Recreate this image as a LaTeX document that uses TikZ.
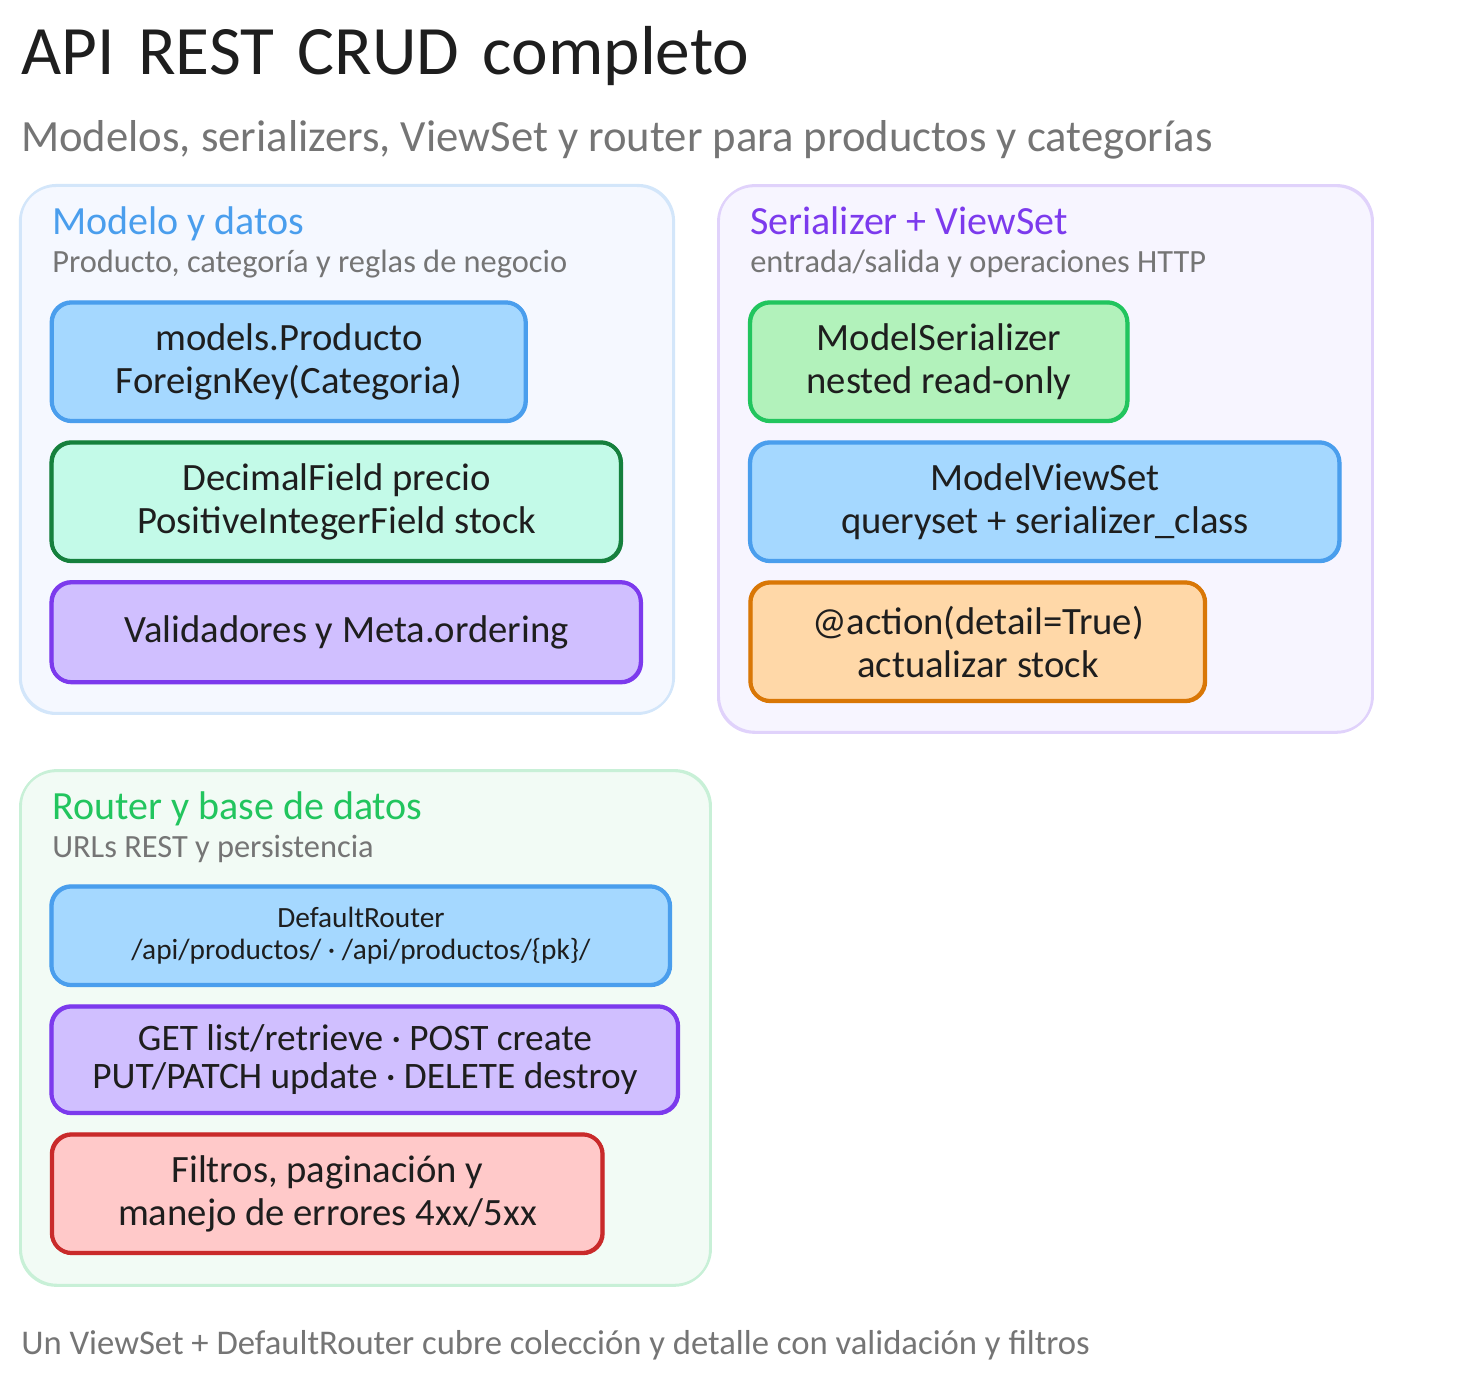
\documentclass[tikz,border=0pt]{standalone}
\usepackage{fontspec}
\setmainfont{Carlito}
\newfontfamily\titlefont[WordSpace=1.5]{Carlito}

\definecolor{ink}{HTML}{1E1E1E}
\definecolor{greytext}{HTML}{757575}
\definecolor{bluefill}{HTML}{A5D8FF}
\definecolor{bluedraw}{HTML}{4A9EED}
\definecolor{greenfill}{HTML}{B2F2BB}
\definecolor{greendraw}{HTML}{22C55E}
\definecolor{tealfill}{HTML}{C3FAE8}
\definecolor{tealdraw}{HTML}{15803D}
\definecolor{violetfill}{HTML}{D0BFFF}
\definecolor{violetdraw}{HTML}{7C3AED}
\definecolor{orangefill}{HTML}{FFD8A8}
\definecolor{orangedraw}{HTML}{D97706}
\definecolor{redfill}{HTML}{FFC9C9}
\definecolor{reddraw}{HTML}{C92A2A}

\begin{document}
\begin{tikzpicture}
  [
    x=.75pt,
    y=-.75pt,
    panel/.style={
      rectangle,
      rounded corners=27pt,
      line width=1.5pt,
      inner sep=0pt,
      outer sep=0pt,
      postaction={draw,transform canvas={xshift=.7pt,yshift=.8pt}}
    },
    card/.style={
      rectangle,
      rounded corners=15pt,
      line width=2.8pt,
      inner sep=0pt,
      outer sep=0pt,
      align=center,
      text=ink,
      font=\fontsize{29}{32}\selectfont,
      postaction={draw,transform canvas={xshift=-.4pt,yshift=.4pt}}
    },
    cardblue/.style={card,fill=bluefill,draw=bluedraw},
    cardgreen/.style={card,fill=greenfill,draw=greendraw},
    cardteal/.style={card,fill=tealfill,draw=tealdraw},
    cardviolet/.style={card,fill=violetfill,draw=violetdraw},
    cardorange/.style={card,fill=orangefill,draw=orangedraw},
    cardred/.style={card,fill=redfill,draw=reddraw},
    heading/.style={anchor=base west,inner sep=0pt,font=\fontsize{30}{34}\selectfont},
    subheading/.style={anchor=base west,inner sep=0pt,text=greytext,font=\fontsize{24.3}{28}\selectfont}
  ]
  \useasboundingbox (0,0) rectangle (1465,1383);

  % title
  \node [anchor=base west,inner sep=0pt,text=ink,font=\titlefont\fontsize{52}{58}\selectfont] (title) at (21,75) {API REST CRUD completo};
  \node [anchor=base west,inner sep=0pt,text=greytext,font=\fontsize{33.5}{38}\selectfont] (subtitle) at (21,152) {Modelos, serializers, ViewSet y router para productos y categorías};

  % panels
  \foreach \name/\cx/\cy/\w/\h/\fc/\sc in {
    panelmodel/346.5/450/490/396/F5F8FF/D3E6FA,
    panelview/1045/459.5/490.5/410/F7F5FF/E0D2FB,
    panelrouter/365/1028.5/517.5/386/F2FBF5/C8F0D7} {
    \definecolor{pfill}{HTML}{\fc}
    \definecolor{pdraw}{HTML}{\sc}
    \node [panel,fill=pfill,draw=pdraw,minimum width=\w,minimum height=\h] (\name) at (\cx,\cy) {};
  }

  % panel headings
  \node [heading,text=bluedraw] (modelhead) at (52,235) {Modelo y datos};
  \node [subheading] (modelsub) at (52,273) {Producto, categoría y reglas de negocio};
  \node [heading,text=violetdraw] (viewhead) at (750,235) {Serializer + ViewSet};
  \node [subheading] (viewsub) at (750,273) {entrada/salida y operaciones HTTP};
  \node [heading,text=greendraw] (routerhead) at (52,819) {Router y base de datos};
  \node [subheading] (routersub) at (52,857) {URLs REST y persistencia};

  % cards
  \foreach \name/\cx/\cy/\w/\h/\look/\txt in {
    producto/289/362/355.5/89/cardblue/{models.Producto\\ForeignKey(Categoria)},
    decimal/336.5/502/427/89/cardteal/{DecimalField precio\\PositiveIntegerField stock},
    validadores/346.5/632.5/442/75/cardviolet/{Validadores y Meta.ordering},
    serializer/939/362/283/89/cardgreen/{ModelSerializer\\nested read-only},
    viewset/1045/502/442/89/cardblue/{ModelViewSet\\queryset + serializer\_class},
    accion/978/642/341/89/cardorange/{@action(detail=True)\\actualizar stock},
    filtros/327.5/1194/413/89/cardred/{Filtros, paginación y\\manejo de errores 4xx/5xx}} {
    \node [\look,minimum width=\w,minimum height=\h] (\name) at (\cx,\cy) {\txt};
  }
  \node [cardblue,font=\fontsize{22}{24}\selectfont,minimum width=464,minimum height=74] (defaultrouter) at (361,936) {DefaultRouter\\/api/productos/ · /api/productos/\{pk\}/};
  \node [cardviolet,font=\fontsize{28}{28.5}\selectfont,minimum width=470,minimum height=80] (metodos) at (365,1060) {GET list/retrieve · POST create\\PUT/PATCH update · DELETE destroy};

  % footer
  \node [anchor=base west,inner sep=0pt,text=greytext,font=\fontsize{26}{30}\selectfont] (footer) at (21,1354) {Un ViewSet + DefaultRouter cubre colección y detalle con validación y filtros};
\end{tikzpicture}
\end{document}
